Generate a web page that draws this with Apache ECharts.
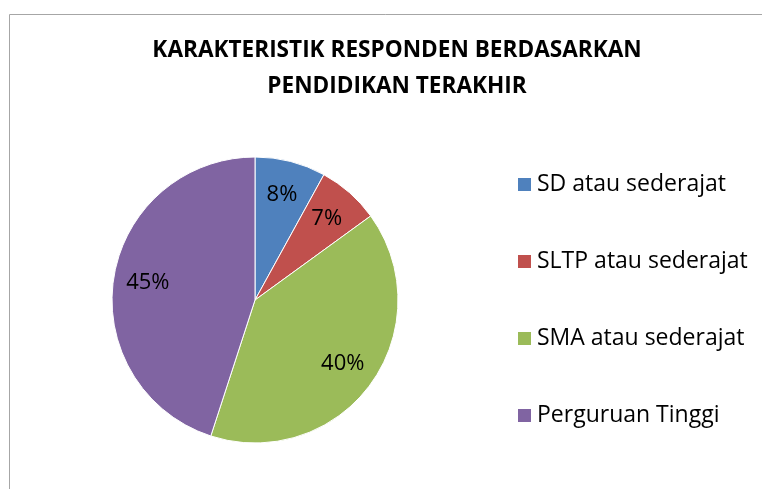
<!DOCTYPE html>
<html><head><meta charset="utf-8">
<script src="https://cdn.jsdelivr.net/npm/echarts@6/dist/echarts.min.js"></script>
<style>html,body{margin:0;padding:0;background:#fff}#c{width:762px;height:489px}</style>
</head><body><div id="c"></div>
<script>
const categories = ["SD atau sederajat", "SLTP atau sederajat", "SMA atau sederajat", "Perguruan Tinggi"];
const values = [8, 7, 40, 45];
const colors = ["#4F81BD", "#C0504D", "#9BBB59", "#8064A2"];
const titleText = "KARAKTERISTIK RESPONDEN BERDASARKAN\nPENDIDIKAN TERAKHIR";

const font = "'Open Sans', 'Liberation Sans', sans-serif";
const data = categories.map((n, i) => ({ name: n, value: values[i], itemStyle: { color: colors[i] } }));
const chart = echarts.init(document.getElementById('c'), null, { renderer: 'canvas' });
chart.setOption({
  animation: false,
  backgroundColor: '#fff',
  graphic: [{
    type: 'polyline', silent: true,
    shape: { points: [[9.5, 489], [9.5, 14.5], [762, 14.5]] },
    style: { stroke: '#A6A6A6', lineWidth: 1, fill: null }
  }],
  title: {
    text: titleText, left: 392, top: 28, textAlign: 'center',
    textStyle: { fontFamily: font, fontWeight: 'bold', fontSize: 22.6, color: '#000', lineHeight: 36 }
  },
  legend: {
    orient: 'vertical', left: 511, top: 168,
    itemWidth: 15, itemHeight: 15, itemGap: 54,
    icon: 'rect',
    textStyle: { fontFamily: font, fontSize: 23, color: '#000', lineHeight: 22 },
    data: categories
  },
  series: [{
    type: 'pie', center: [255, 300], radius: 143, startAngle: 90, clockwise: true,
    label: { show: false }, labelLine: { show: false },
    itemStyle: { borderColor: '#fff', borderWidth: 1 },
    emphasis: { disabled: true },
    data: data
  }, {
    type: 'pie', center: [255, 300], radius: [68, 143], startAngle: 90, clockwise: true,
    silent: true, legendHoverLink: false,
    itemStyle: { color: 'rgba(0,0,0,0)' },
    label: { show: true, position: 'inside', formatter: '{c}%', fontFamily: font, fontSize: 22, color: '#000' },
    labelLine: { show: false },
    emphasis: { disabled: true },
    data: categories.map((n, i) => ({ name: n + ' ', value: values[i] }))
  }]
});
</script></body></html>
